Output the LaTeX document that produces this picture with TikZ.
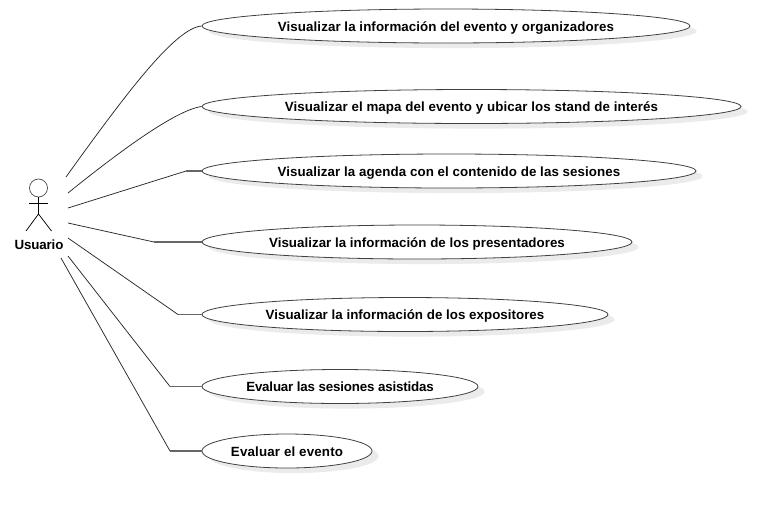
\documentclass[tikz,border=0pt]{standalone}
\usepackage{fontspec}
\setmainfont{Liberation Sans}
\usetikzlibrary{shapes.geometric,shadows}
\tikzset{
  usecase/.style={ellipse,draw=black!75,line width=0.6pt,fill=white,inner sep=0pt,
    text height=8.2pt,text depth=0pt,minimum height=25.5pt,
    font=\fontsize{10pt}{12pt}\selectfont\bfseries,
    copy shadow={shadow xshift=5pt,shadow yshift=-3.8pt,fill=black!8,draw=none}},
  link/.style={draw=black!85,line width=0.55pt},
  stem/.style={draw=black!60,line width=0.8pt},
  stick/.style={draw=black,line width=0.55pt},
  actorname/.style={font=\fontsize{10pt}{12pt}\selectfont\bfseries,inner sep=0pt,text height=8.2pt,text depth=0pt}
}
\begin{document}
\begin{tikzpicture}[x=0.75pt,y=-0.75pt]
\useasboundingbox (0,0) rectangle (781,508);
\fill[white] (0,0) rectangle (781,508);
\node[usecase,minimum width=366pt] (u1) at (446,26) {\addfontfeatures{LetterSpace=0.6}Visualizar la información del evento y organizadores};
\node[usecase,minimum width=404.25pt] (u2) at (471.5,106.5) {\addfontfeatures{LetterSpace=0.7}Visualizar el mapa del evento y ubicar los stand de interés};
\node[usecase,minimum width=370.5pt] (u3) at (449,171) {\addfontfeatures{LetterSpace=0.6}Visualizar la agenda con el contenido de las sesiones};
\node[usecase,minimum width=322.5pt] (u4) at (417,242) {\addfontfeatures{LetterSpace=0.2}Visualizar la información de los presentadores};
\node[usecase,minimum width=304.5pt] (u5) at (405,314.5) {\addfontfeatures{LetterSpace=0.2}Visualizar la información de los expositores};
\node[usecase,minimum width=207pt] (u6) at (340,386.5) {\addfontfeatures{LetterSpace=-1.3}Evaluar las sesiones asistidas};
\node[usecase,minimum width=127.5pt] (u7) at (287,451) {\addfontfeatures{LetterSpace=1.3}Evaluar el evento};
% actor
\node[circle,draw=black!70,line width=0.55pt,minimum size=13.5pt,inner sep=0pt] (head) at (38.5,188) {};
\coordinate (hip) at (38.5,214);
\coordinate (armL) at (29,203);
\coordinate (armR) at (48,203);
\coordinate (legL) at (26,231);
\coordinate (legR) at (51.5,231);
\draw[stick] (head.south) -- (hip);
\draw[stick] (armL) -- (armR);
\draw[stick] (legL) -- (hip) -- (legR);
\node[actorname] (actor) at (39,244) {\addfontfeatures{LetterSpace=-1}Usuario};
% connector ends at the actor
\coordinate (a1) at (66,177);
\coordinate (a2) at (68,193);
\coordinate (a3) at (68,208);
\coordinate (a4) at (68,223);
\coordinate (a5) at (68,238);
\coordinate (a6) at (68,256);
\coordinate (a7) at (61,258);
% elbows
\coordinate (b3) at (186,171);
\coordinate (b4) at (154,242);
\coordinate (b5) at (178,314.5);
\coordinate (b6) at (170,386.5);
\coordinate (b7) at (170,451);
\draw[link] (a1) .. controls (125,95) and (175,28) .. (u1.west);
\draw[link] (a2) .. controls (115,155) and (175,110) .. (u2.west);
\draw[link] (a3) -- (b3); \draw[stem] (b3) -- (u3.west);
\draw[link] (a4) -- (b4); \draw[stem] (b4) -- (u4.west);
\draw[link] (a5) -- (b5); \draw[stem] (b5) -- (u5.west);
\draw[link] (a6) -- (b6); \draw[stem] (b6) -- (u6.west);
\draw[link] (a7) -- (b7); \draw[stem] (b7) -- (u7.west);
\end{tikzpicture}
\end{document}
